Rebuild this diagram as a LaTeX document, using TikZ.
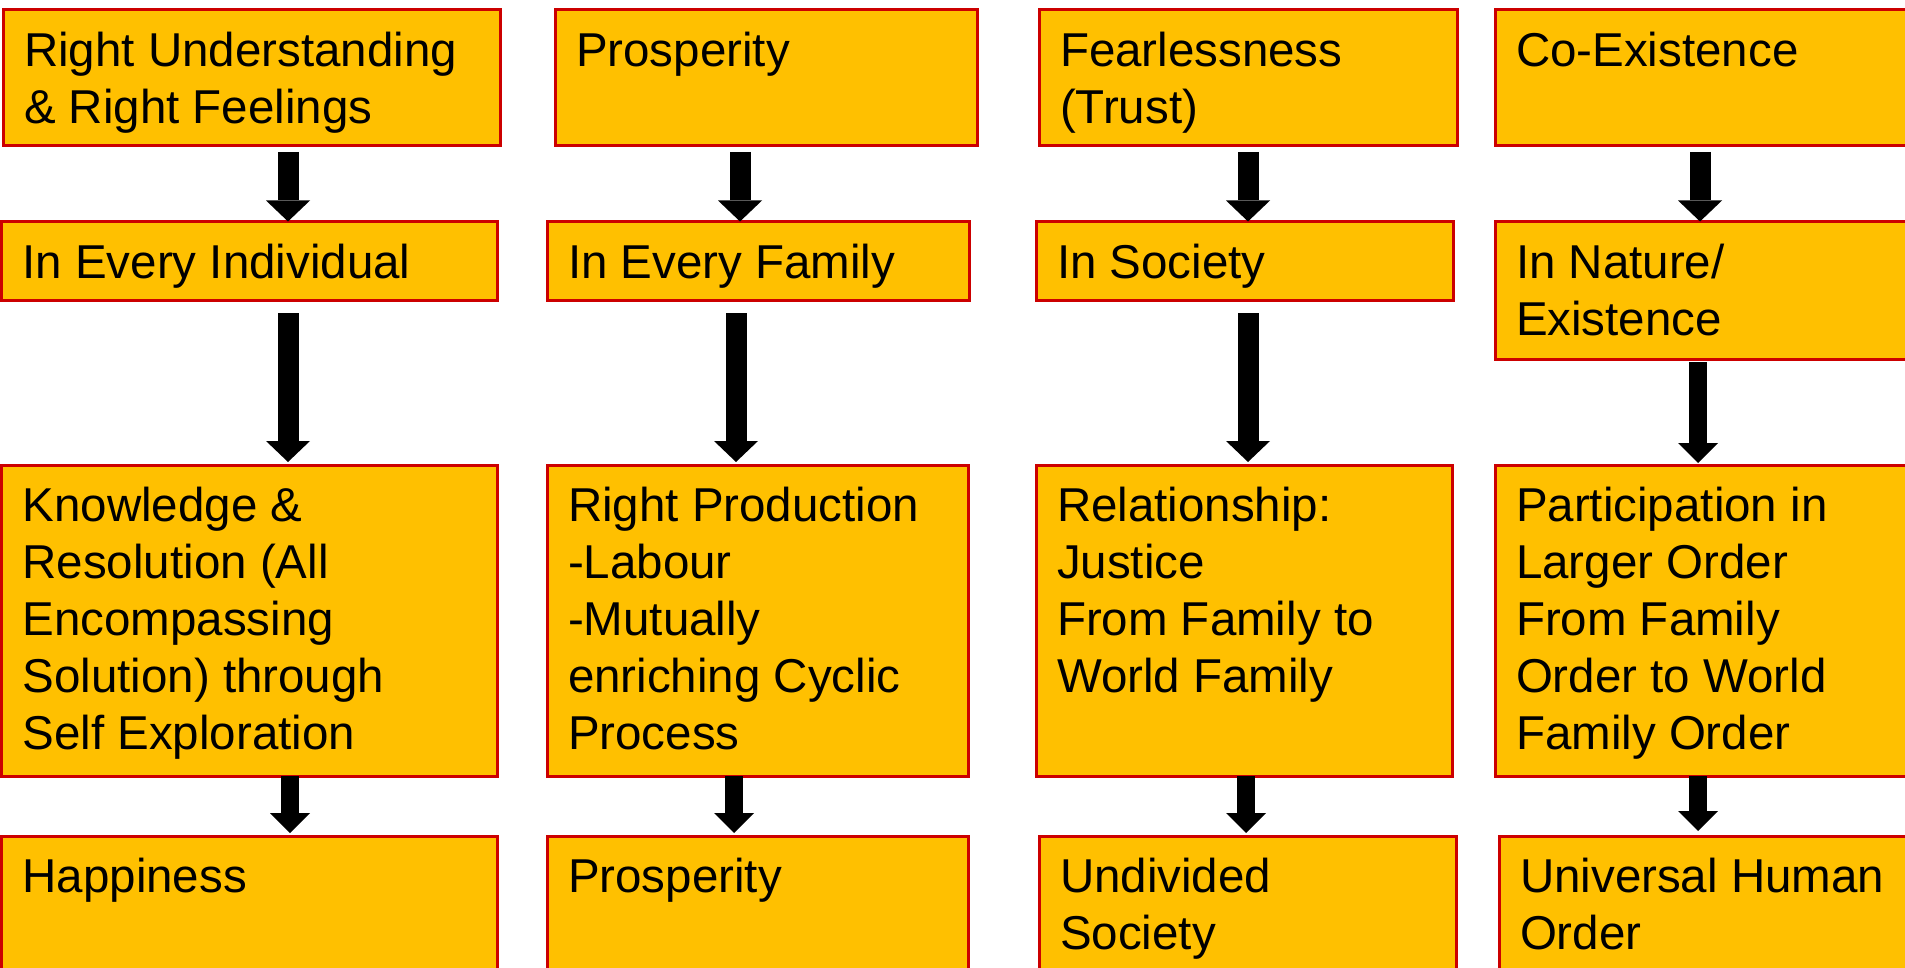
\documentclass[tikz,border=0pt]{standalone}
\usepackage{fontspec}
\setmainfont{Liberation Sans}
\usetikzlibrary{arrows.meta,calc}
\definecolor{boxgold}{HTML}{FFC000}
\definecolor{boxred}{HTML}{CC0000}
\newcommand\bx[6]{%
  \node[box, anchor=north west, minimum width={#4-#2}, minimum height={#5-#3}] (#1) at (#2,#3) {};
  \node[txt] (#1t) at ($(#1.north west)+(21,17.2)$) {\strut #6};}
\begin{document}
\begin{tikzpicture}[x=1pt,y=-1pt,
  box/.style={draw=boxred, fill=boxgold, line width=3pt, rectangle, inner sep=0pt, outer sep=0pt},
  txt/.style={anchor=north west, inner sep=0pt, outer sep=0pt, align=left,
              font=\fontsize{47.5}{56.8}\selectfont, text=black},
  blkA/.style={black, line width=21pt, -{Triangle[length=21pt,width=44pt,line width=0pt]}},
  blkB/.style={black, line width=18.5pt, -{Triangle[length=20pt,width=40pt,line width=0pt]}}]
\useasboundingbox (0,0) rectangle (1905,968);
\clip (0,0) rectangle (1905,968);
\fill[white] (0,0) rectangle (1905,968);

% column 1
\bx{a1}{3}{10}{500}{146}{Right Understanding\\\& Right Feelings}
\bx{a2}{1.5}{222}{497}{300}{In Every Individual}
\bx{a3}{1.5}{465}{497}{776}{Knowledge \&\\Resolution (All\\Encompassing\\Solution) through\\Self Exploration}
\bx{a4}{1.5}{836}{497}{1010}{Happiness}
% column 2
\bx{b1}{555}{10}{977}{146}{Prosperity}
\bx{b2}{547}{222}{969}{300}{In Every Family}
\bx{b3}{547}{465}{968}{776}{Right Production\\-Labour\\-Mutually\\enriching Cyclic\\Process}
\bx{b4}{547}{836}{968}{1010}{Prosperity}
% column 3
\bx{c1}{1039}{10}{1457}{146}{Fearlessness\\(Trust)}
\bx{c2}{1036}{222}{1453}{300}{In Society}
\bx{c3}{1036}{465}{1452}{776}{Relationship:\\Justice\\From Family to\\World Family}
\bx{c4}{1039}{836}{1456}{1010}{Undivided\\Society}
% column 4
\bx{d1}{1495}{10}{1960}{146}{Co-Existence}
\bx{d2}{1495}{222}{1960}{359}{In Nature/\\Existence}
\bx{d3}{1495}{465}{1960}{776}{Participation in\\Larger Order\\From Family\\Order to World\\Family Order}
\bx{d4}{1499}{836}{1960}{1010}{Universal Human\\Order}

% arrow axes
\coordinate (xa1) at (288,0);  \coordinate (xa2) at (288,0);  \coordinate (xa3) at (290,0);
\coordinate (xb1) at (740,0);  \coordinate (xb2) at (736,0);  \coordinate (xb3) at (734,0);
\coordinate (xc1) at (1248,0); \coordinate (xc2) at (1248,0); \coordinate (xc3) at (1246,0);
\coordinate (xd1) at (1700,0); \coordinate (xd2) at (1698,0); \coordinate (xd3) at (1698,0);

% arrows
\draw[blkA] ($(a1.south -| xa1)+(0,6)$)  -- ($(a2.north -| xa1)+(0,-0.5)$);
\draw[blkA] ($(a2.south -| xa2)+(0,13)$) -- ($(a3.north -| xa2)+(0,-3)$);
\draw[blkB] ($(a3.south -| xa3)+(0,0)$)  -- ($(a4.north -| xa3)+(0,-3)$);

\draw[blkA] ($(b1.south -| xb1)+(0,6)$)  -- ($(b2.north -| xb1)+(0,-0.5)$);
\draw[blkA] ($(b2.south -| xb2)+(0,13)$) -- ($(b3.north -| xb2)+(0,-3)$);
\draw[blkB] ($(b3.south -| xb3)+(0,0)$)  -- ($(b4.north -| xb3)+(0,-3)$);

\draw[blkA] ($(c1.south -| xc1)+(0,6)$)  -- ($(c2.north -| xc1)+(0,-0.5)$);
\draw[blkA] ($(c2.south -| xc2)+(0,13)$) -- ($(c3.north -| xc2)+(0,-3)$);
\draw[blkB] ($(c3.south -| xc3)+(0,0)$)  -- ($(c4.north -| xc3)+(0,-3)$);

\draw[blkA] ($(d1.south -| xd1)+(0,6)$)  -- ($(d2.north -| xd1)+(0,-0.5)$);
\draw[blkB] ($(d2.south -| xd2)+(0,3)$)  -- ($(d3.north -| xd2)+(0,-2)$);
\draw[blkB] ($(d3.south -| xd3)+(0,0)$)  -- ($(d4.north -| xd3)+(0,-5)$);
\end{tikzpicture}
\end{document}
